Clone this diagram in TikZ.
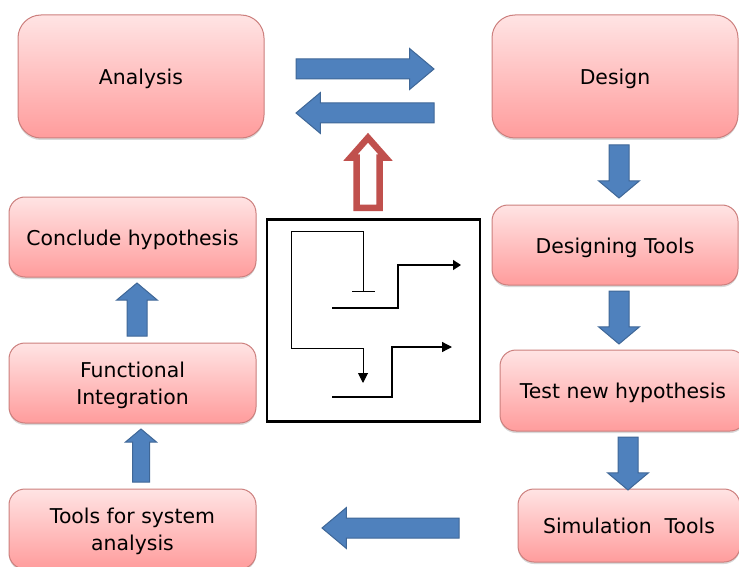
\documentclass[tikz,border=0pt]{standalone}
\usepackage{fontspec}
\setmainfont{DejaVu Sans}
\usetikzlibrary{arrows.meta,shapes.arrows,shadows}
\definecolor{boxtop}{HTML}{FFE4E4}
\definecolor{boxbottom}{HTML}{FF9C9C}
\definecolor{boxline}{HTML}{CC7F7D}
\definecolor{arrowblue}{HTML}{4F81BD}
\definecolor{arrowline}{HTML}{3F6797}
\definecolor{arrowred}{HTML}{C0504D}
\tikzset{
    stagebox/.style={draw=boxline, line width=1pt, rounded corners=16pt, top color=boxtop, bottom color=boxbottom,
        align=center, inner sep=0pt, font=\fontsize{20.4}{27}\selectfont,
        drop shadow={shadow xshift=0pt, shadow yshift=-2pt, opacity=0.3}},
    oneline/.style={text height=16pt, text depth=0pt},
    bigbox/.style={stagebox, oneline, rounded corners=23pt},
    blockarrow/.style={single arrow, draw=arrowline, fill=arrowblue, line width=1pt, inner xsep=0pt, inner ysep=9.5pt,
        outer sep=0pt, anchor=tip, single arrow head extend=10.5pt, single arrow tip angle=80, minimum height=#1},
    stemarrow/.style={blockarrow=#1, single arrow tip angle=100},
    redarrow/.style={single arrow, draw=arrowred, fill=white, line width=6.5pt, inner xsep=0pt, inner ysep=8.25pt,
        outer sep=0pt, anchor=tail, single arrow head extend=6pt, single arrow tip angle=83, minimum height=#1},
    wire/.style={draw=black, line width=1.3pt},
}
\begin{document}
\begin{tikzpicture}[x=1pt, y=-1pt]
    \useasboundingbox (0,0) rectangle (739,567);
    % boxes
    \node[bigbox, minimum width=246pt, minimum height=123pt] (analysis) at (141,76.5) {Analysis};
    \node[bigbox, minimum width=246pt, minimum height=123pt] (design) at (615,76.5) {Design};
    \node[stagebox, oneline, minimum width=246pt, minimum height=80pt] (designtools) at (615,245) {Designing Tools};
    \node[stagebox, oneline, minimum width=246pt, minimum height=81pt] (testhyp) at (623,390.5) {Test new hypothesis};
    \node[stagebox, oneline, minimum width=222pt, minimum height=73pt] (simtools) at (629,525.5) {Simulation~ Tools};
    \node[stagebox, oneline, minimum width=247pt, minimum height=80pt] (conclude) at (132.5,237) {Conclude hypothesis};
    \node[stagebox, minimum width=247pt, minimum height=80pt] (integration) at (132.5,383) {\rule{0pt}{21pt}Functional\\Integration};
    \node[stagebox, minimum width=247pt, minimum height=80pt] (systools) at (132.5,529) {\rule{0pt}{21pt}Tools for system\\analysis};
    % block arrows
    \node[blockarrow=138pt] (toDesign) at (434,69) {};
    \node[blockarrow=138pt, rotate=180] (toAnalysis) at (296,113) {};
    \node[stemarrow=53pt, rotate=-90] (toDesignTools) at (619,198) {};
    \node[stemarrow=53pt, rotate=-90] (toTest) at (619,344) {};
    \node[stemarrow=53pt, rotate=-90] (toSim) at (628,490) {};
    \node[blockarrow=137pt, rotate=180] (toSysTools) at (322,528) {};
    \node[stemarrow=53pt, rotate=90, inner ysep=8pt, single arrow head extend=7pt] (toIntegration) at (141,429) {};
    \node[stemarrow=53pt, rotate=90] (toConclude) at (137,283) {};
    \node[redarrow=70pt, rotate=90] (upArrow) at (368,207.75) {};
    % circuit
    \node[draw=black, line width=2.5pt, minimum width=213pt, minimum height=202pt, inner sep=0pt, outer sep=0pt] (circuit) at (373.5,320.5) {};
    \coordinate (c0) at (291,231);
    \coordinate (c1) at (363,231);
    \coordinate (c2) at (363,292);
    \coordinate (c3) at (291,348);
    \coordinate (c4) at (363,348);
    \coordinate (c5) at (363,383);
    \coordinate (g0) at (332,308);
    \coordinate (g1) at (398,308);
    \coordinate (g2) at (398,265);
    \coordinate (g3) at (461,265);
    \coordinate (h0) at (332,397);
    \coordinate (h1) at (392,397);
    \coordinate (h2) at (392,347);
    \coordinate (h3) at (452,347);
    \draw[wire, -{Bar[width=23pt,line width=1pt]}, line width=1pt] (c0) -- (c1) -- (c2);
    \draw[wire, -{Triangle[length=10pt,width=10pt]}, line width=1pt] (c0) -- (c3) -- (c4) -- (c5);
    \draw[wire, -{Triangle[length=8pt,width=10pt]}] (g0) -- (g1) -- (g2) -- (g3);
    \draw[wire, -{Triangle[length=10pt,width=10pt]}] (h0) -- (h1) -- (h2) -- (h3);
\end{tikzpicture}
\end{document}
